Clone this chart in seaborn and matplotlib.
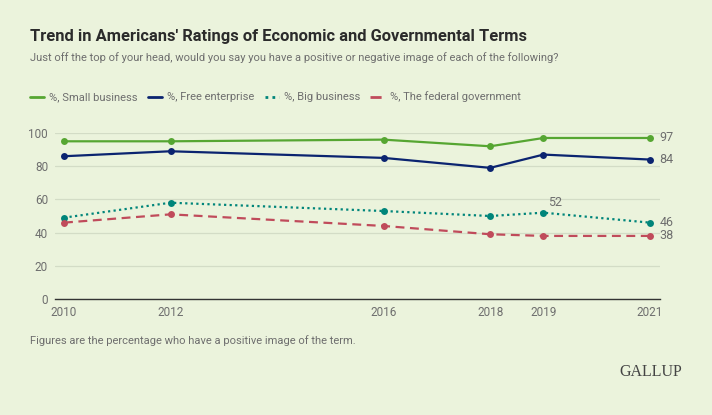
import matplotlib
matplotlib.use("Agg")
import matplotlib.pyplot as plt
import seaborn as sns
import pandas as pd
from matplotlib.lines import Line2D

years = [2010, 2012, 2016, 2018, 2019, 2021]
small_business = [95, 95, 96, 92, 97, 97]
free_enterprise = [86, 89, 85, 79, 87, 84]
big_business = [49, 58, 53, 50, 52, 46]
federal_gov = [46, 51, 44, 39, 38, 38]
series_names = ["%, Small business", "%, Free enterprise", "%, Big business", "%, The federal government"]
yticks = [0, 20, 40, 60, 80, 100]

BG = "#EBF3DC"
colors = ["#56A632", "#0B2470", "#00857A", "#C04B5B"]
styles = ["-", "-", (0, (1, 1.5)), (0, (4, 2.5))]

sns.set_theme(style="white")
plt.rcParams['font.family'] = ['Roboto', 'DejaVu Sans']

rows = []
for name, vals in zip(series_names, [small_business, free_enterprise, big_business, federal_gov]):
    for y, v in zip(years, vals):
        rows.append({"year": y, "value": v, "series": name})
df = pd.DataFrame(rows)

fig = plt.figure(figsize=(7.12, 4.15), dpi=100, facecolor=BG)
ax = fig.add_axes([55/712, 116/415, 605/712, 166/415])
ax.set_facecolor(BG)

for name, c, ls in zip(series_names, colors, styles):
    sub = df[df.series == name]
    sns.lineplot(data=sub, x="year", y="value", ax=ax, color=c, linestyle=ls,
                 linewidth=1.6, marker="o", markersize=5, markeredgewidth=0,
                 label=name, clip_on=False)

ax.set_xlim(2010 - 9/53.2, 2021 + 10/53.2)
ax.set_ylim(0, 100)
ax.set_yticks(yticks)
ax.set_xticks(years)
ax.set_xlabel("")
ax.set_ylabel("")
ax.grid(axis="y", color="#D3DCC6", linewidth=0.9)
for s in ["top", "right", "left"]:
    ax.spines[s].set_visible(False)
ax.spines["bottom"].set_color("#333333")
ax.spines["bottom"].set_linewidth(1.0)
ax.tick_params(axis="both", length=0, labelsize=8.5, labelcolor="#6E6E6E")
ax.tick_params(axis="x", pad=5)
ax.tick_params(axis="y", pad=5)
ax.get_legend().remove()

# end labels
for vals in [small_business, free_enterprise, big_business, federal_gov]:
    ax.annotate(str(vals[-1]), xy=(years[-1], vals[-1]), xytext=(7, 0),
                textcoords="offset points", va="center", ha="left",
                fontsize=9, color="#6E6E6E")
ax.annotate(str(big_business[4]), xy=(years[4], big_business[4]), xytext=(3.5, 3),
            textcoords="offset points", va="bottom", ha="left",
            fontsize=9, color="#6E6E6E")

# legend
hs = [Line2D([0], [0], color=c, linestyle=ls, linewidth=2) for c, ls in zip(colors, styles)]
leg = fig.legend(hs, series_names, loc="center left", bbox_to_anchor=(30/712, 1 - 97/415),
                 ncol=4, frameon=False, fontsize=8, handlelength=1.25, handletextpad=0.5,
                 columnspacing=0.9, labelcolor="#6E6E6E", borderpad=0, borderaxespad=0)

fig.text(30/712, 1 - 37/415, "Trend in Americans' Ratings of Economic and Governmental Terms",
         fontsize=11.9, fontweight="bold", color="#2B2B2B", va="center", ha="left")
fig.text(30/712, 1 - 58/415,
         "Just off the top of your head, would you say you have a positive or negative image of each of the following?",
         fontsize=8, color="#6E6E6E", va="center", ha="left")
fig.text(30/712, 1 - 341/415, "Figures are the percentage who have a positive image of the term.",
         fontsize=8, color="#6E6E6E", va="center", ha="left")
fig.text(682/712, 1 - 372/415, "GALLUP", family=["Liberation Serif", "DejaVu Serif"],
         fontsize=11.5, color="#444444", va="center", ha="right")

fig.savefig("out.png", dpi=100, facecolor=BG)
